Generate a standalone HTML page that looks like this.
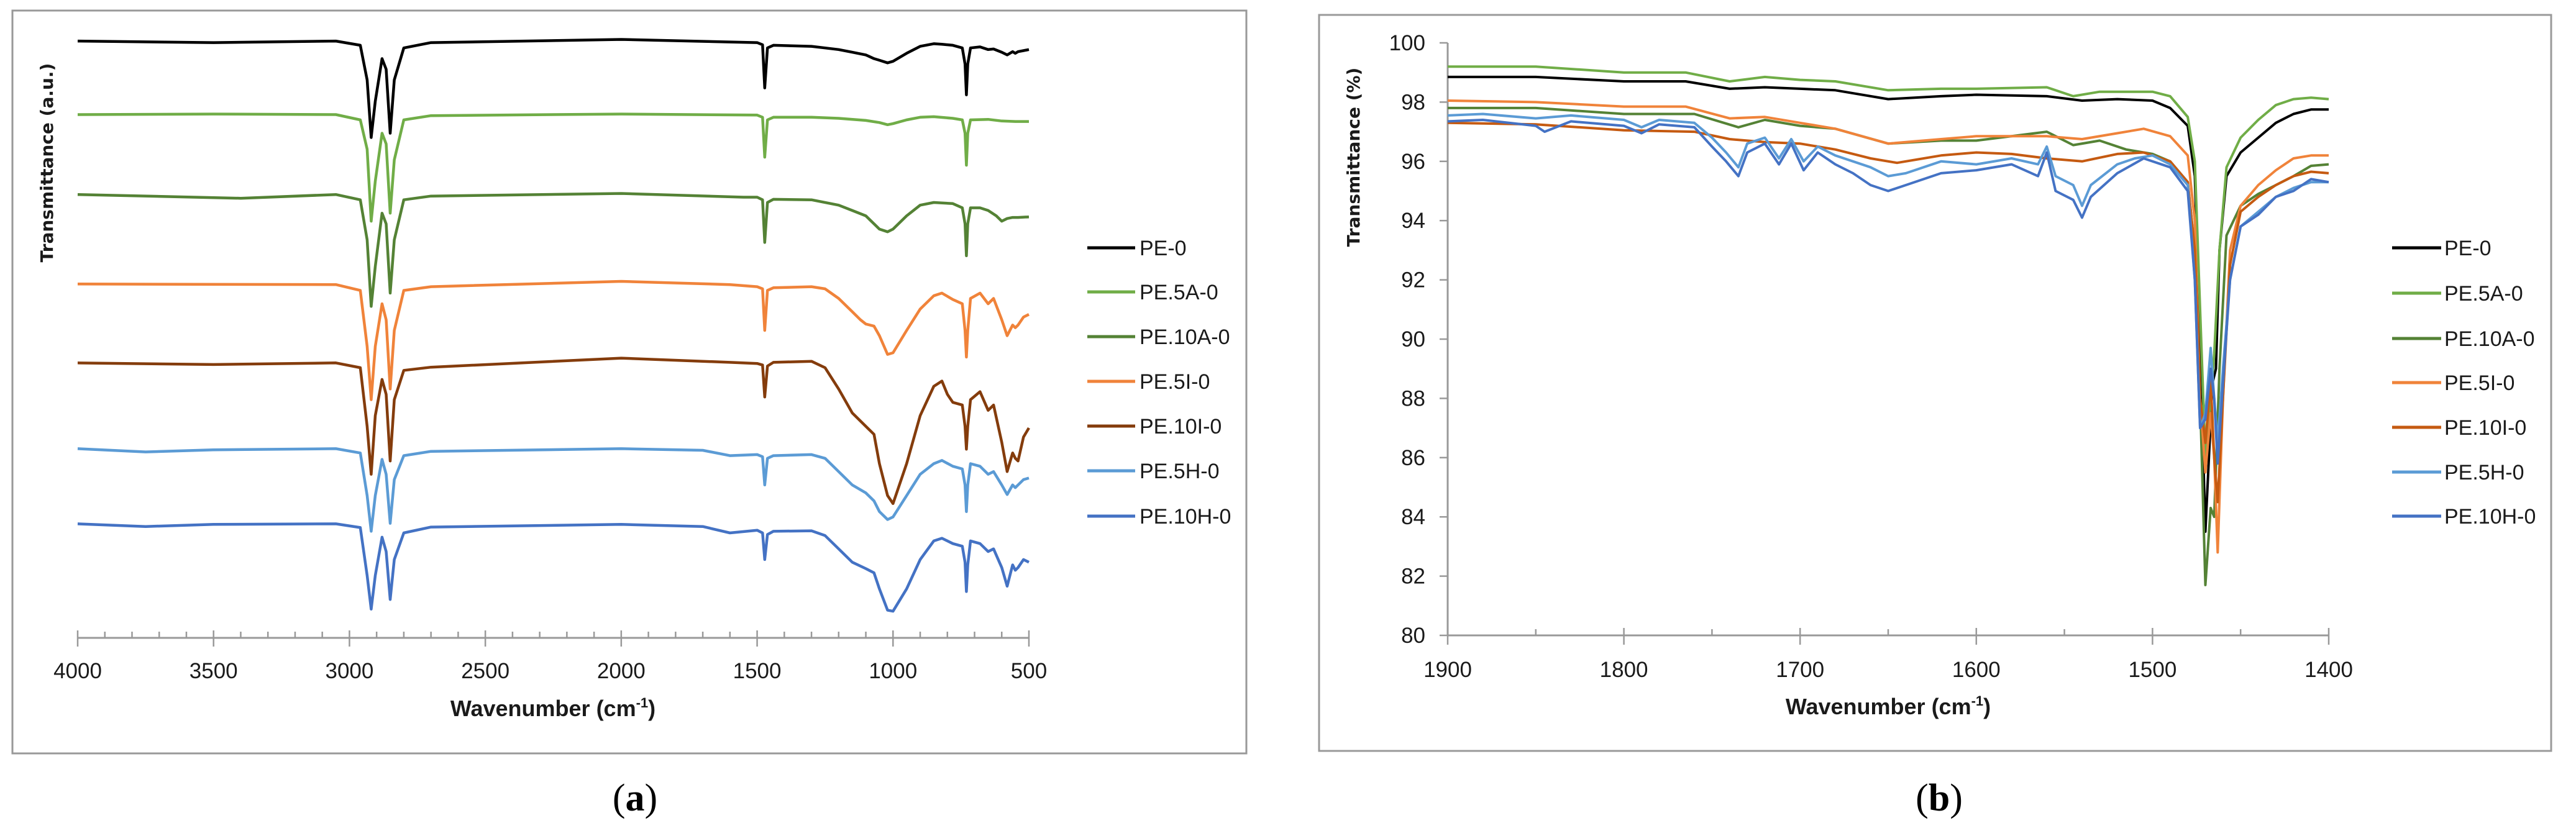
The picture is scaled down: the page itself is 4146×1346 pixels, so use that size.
<!DOCTYPE html>
<html><head><meta charset="utf-8"><style>
html,body{margin:0;padding:0;background:#fff;}
svg{display:block;}
text{font-family:"Liberation Sans Narrow","Liberation Sans",sans-serif;fill:#1a1a1a;}
.ttl{font-family:"DejaVu Sans","Liberation Sans",sans-serif;font-weight:bold;}
.xt{font-weight:bold;}
.cap{font-family:"Liberation Serif",serif;fill:#000;}
</style></head><body>
<svg id="fig" width="4146" height="1346" viewBox="0 0 4146 1346" xmlns="http://www.w3.org/2000/svg">
<rect x="0" y="0" width="4146" height="1346" fill="#fff"/>
<rect x="20" y="17" width="1986" height="1196" fill="none" stroke="#999" stroke-width="3"/>
<rect x="2123" y="24" width="1983" height="1185" fill="none" stroke="#999" stroke-width="3"/>
<g id="ga"></g>
<g id="gb"></g>
<text class="ttl" x="0" y="0" font-size="28" text-anchor="middle" transform="translate(85,262) rotate(-90)">Transmittance (a.u.)</text>
<text class="xt" x="890" y="1153" font-size="36" text-anchor="middle">Wavenumber (cm<tspan font-size="22" dy="-14">-1</tspan><tspan dy="14">)</tspan></text>
<text class="ttl" x="0" y="0" font-size="28" text-anchor="middle" transform="translate(2188,253) rotate(-90)">Transmittance (%)</text>
<text class="xt" x="3039" y="1150" font-size="36" text-anchor="middle">Wavenumber (cm<tspan font-size="22" dy="-14">-1</tspan><tspan dy="14">)</tspan></text>
<text class="cap" x="1022" y="1305" font-size="62" text-anchor="middle">(<tspan font-weight="bold">a</tspan>)</text>
<text class="cap" x="3121" y="1305" font-size="62" text-anchor="middle">(<tspan font-weight="bold">b</tspan>)</text>
</svg>
<script>
// ---------- Panel A data (wavenumber, relative transmittance a.u.) ----------
const aNames = ["PE-0","PE.5A-0","PE.10A-0","PE.5I-0","PE.10I-0","PE.5H-0","PE.10H-0"];
const aColors = ["#000000","#70ad47","#548235","#f0833a","#843c0c","#5b9bd5","#4472c4"];
const aXTicks = [4000,3500,3000,2500,2000,1500,1000,500];
const aPE0 = [[4000,112.3],[3500,112],[3050,112.3],[2960,111.5],[2935,105],[2920,94.2],[2905,101],[2880,109],[2865,107],[2850,95],[2835,105],[2800,111],[2700,112],[2000,112.6],[1500,112],[1480,111.6],[1472,103.5],[1462,111],[1440,111.5],[1300,111.3],[1250,111],[1200,110.7],[1150,110.2],[1100,109.7],[1070,109],[1050,108.7],[1020,108.2],[1000,108.5],[950,110],[900,111.3],[850,111.8],[820,111.7],[780,111.5],[745,111],[735,108],[730,102.2],[725,108],[715,111],[680,111.2],[650,110.7],[630,110.8],[600,110.2],[580,109.7],[560,110.3],[550,110],[540,110.3],[520,110.5],[500,110.7]];
const aPE5A = [[4000,98.5],[3500,98.6],[3050,98.5],[2960,97.5],[2935,92],[2920,78.5],[2905,86],[2880,95],[2865,93],[2850,80],[2835,90],[2800,97.5],[2700,98.3],[2000,98.6],[1500,98.4],[1480,98],[1472,90.5],[1462,97.5],[1440,98],[1300,98],[1200,97.8],[1100,97.4],[1050,97],[1020,96.6],[1000,96.8],[950,97.5],[900,98],[850,98.1],[780,97.8],[745,97.5],[735,95],[730,89],[725,95],[715,97.5],[650,97.6],[600,97.3],[550,97.2],[500,97.2]];
const aPE10A = [[4000,83.5],[3400,82.8],[3050,83.5],[2960,82.5],[2935,75],[2920,62.5],[2905,70],[2880,80],[2865,78],[2850,65],[2835,75],[2800,82.5],[2700,83.2],[2000,83.7],[1550,83],[1500,83],[1480,82.5],[1472,74.5],[1462,82],[1440,82.6],[1300,82.5],[1200,81.5],[1150,80.5],[1100,79.5],[1070,78],[1050,77],[1020,76.5],[1000,77],[950,79.5],[900,81.5],[850,82],[780,81.8],[745,81],[735,78],[730,72],[725,78],[715,81],[680,81],[650,80.5],[620,79.5],[600,78.5],[580,79],[560,79.2],[540,79.2],[500,79.3]];
const aPE5I = [[4000,66.7],[3050,66.6],[2960,65.5],[2935,55],[2920,45],[2905,55],[2880,63],[2865,60],[2850,47],[2835,58],[2800,65.5],[2700,66.2],[2000,67.2],[1600,66.6],[1500,66.2],[1480,65.8],[1472,58],[1462,65.5],[1440,66],[1300,66.2],[1250,65.8],[1200,64],[1150,61.5],[1120,60],[1100,59.2],[1070,58.8],[1050,57],[1020,53.5],[1000,53.8],[950,58],[900,62],[850,64.5],[820,65],[780,63.8],[745,63],[735,58],[730,53],[725,58],[715,64],[680,65],[650,63],[630,64],[600,60],[580,57],[560,59],[550,58.5],[540,59],[520,60.5],[500,61]];
const aPE10I = [[4000,51.9],[3500,51.6],[3050,51.9],[2960,51],[2935,40],[2920,31],[2905,42],[2880,48.8],[2865,46],[2850,33.5],[2835,45],[2800,50.5],[2700,51.1],[2000,52.8],[1600,52],[1500,51.8],[1480,51.5],[1472,45.5],[1462,51.3],[1440,52],[1300,52.2],[1250,51],[1200,47],[1150,42.5],[1100,40],[1070,38.5],[1050,33],[1020,27],[1000,25.5],[950,33],[900,42],[850,47.5],[820,48.5],[800,46],[780,44.5],[745,44],[735,40],[730,35.7],[725,40],[715,45],[680,46.5],[650,43],[630,44],[600,37],[580,31.5],[560,35],[550,34],[540,33.5],[520,38],[500,39.7]];
const aPE5H = [[4000,35.8],[3750,35.2],[3500,35.6],[3050,35.8],[2960,35],[2935,27],[2920,20.3],[2905,27],[2880,33.8],[2865,31],[2850,21.8],[2835,30],[2800,34.5],[2700,35.3],[2000,35.8],[1700,35.5],[1600,34.5],[1500,34.7],[1480,34.3],[1472,29],[1462,34],[1440,34.5],[1300,34.7],[1250,34],[1200,31.5],[1150,29],[1100,27.5],[1070,26],[1050,24],[1020,22.5],[1000,23],[950,27],[900,31],[850,33],[820,33.6],[780,32.5],[745,32],[735,29],[730,24],[725,29],[715,33],[680,32.5],[650,31],[630,31.5],[600,29],[580,27.2],[560,29],[550,28.5],[540,29],[520,30],[500,30.3]];
const aPE10H = [[4000,21.7],[3750,21.2],[3500,21.6],[3050,21.7],[2960,21],[2935,12],[2920,5.7],[2905,12],[2880,19.2],[2865,16.5],[2850,7.5],[2835,15],[2800,20],[2700,21.1],[2000,21.6],[1700,21.2],[1600,20],[1500,20.5],[1480,20],[1472,15],[1462,19.7],[1440,20.3],[1300,20.4],[1250,19.5],[1200,17],[1150,14.5],[1100,13.3],[1070,12.5],[1050,9.5],[1020,5.5],[1000,5.3],[950,9.5],[900,15],[850,18.5],[820,19],[780,18],[745,17.5],[735,14.5],[730,9],[725,14],[715,18.5],[680,18],[650,16.5],[630,17],[600,13.5],[580,10],[560,14],[550,13],[540,13.5],[520,15],[500,14.5]];

// ---------- Panel B data (wavenumber, transmittance %) ----------
const bNames = aNames;
const bColors = ["#000000","#70ad47","#548235","#f0833a","#c55a11","#5b9bd5","#4472c4"];
const bXTicks = [1900,1800,1700,1600,1500,1400];
const bYTicks = [80,82,84,86,88,90,92,94,96,98,100];
const bPE0 = [[1900,98.85],[1850,98.85],[1800,98.7],[1765,98.7],[1740,98.45],[1720,98.5],[1700,98.45],[1680,98.4],[1650,98.1],[1620,98.2],[1600,98.25],[1560,98.2],[1540,98.05],[1520,98.1],[1500,98.05],[1490,97.8],[1480,97.2],[1476,95.5],[1473,90],[1470,83.5],[1468,86],[1466,88.5],[1464,89],[1462,93],[1458,95.5],[1450,96.3],[1440,96.8],[1430,97.3],[1420,97.6],[1410,97.75],[1400,97.75]];
const bPE5A = [[1900,99.2],[1850,99.2],[1800,99.0],[1765,99.0],[1740,98.7],[1720,98.85],[1700,98.75],[1680,98.7],[1650,98.4],[1620,98.45],[1600,98.45],[1560,98.5],[1545,98.2],[1530,98.35],[1500,98.35],[1490,98.2],[1480,97.5],[1476,96],[1473,91],[1470,86],[1467,88],[1465,89.5],[1462,93],[1458,95.8],[1450,96.8],[1440,97.4],[1430,97.9],[1420,98.1],[1410,98.15],[1400,98.1]];
const bPE10A = [[1900,97.8],[1850,97.8],[1800,97.6],[1760,97.6],[1735,97.15],[1720,97.4],[1700,97.2],[1680,97.1],[1650,96.6],[1620,96.7],[1600,96.7],[1560,97.0],[1545,96.55],[1530,96.7],[1515,96.4],[1500,96.25],[1490,96.0],[1480,95.3],[1476,93],[1473,88],[1470,81.7],[1467,84.3],[1465,84],[1462,89],[1458,93.5],[1450,94.5],[1440,94.9],[1430,95.2],[1420,95.5],[1410,95.85],[1400,95.9]];
const bPE5I = [[1900,98.05],[1850,98.0],[1800,97.85],[1765,97.85],[1740,97.45],[1720,97.5],[1700,97.3],[1680,97.1],[1650,96.6],[1620,96.75],[1600,96.85],[1560,96.85],[1540,96.75],[1520,96.95],[1505,97.1],[1490,96.85],[1480,96.2],[1476,94],[1473,88],[1470,85.5],[1467,87.5],[1465,86],[1463,82.8],[1460,88],[1456,93],[1450,94.5],[1440,95.2],[1430,95.7],[1420,96.1],[1410,96.2],[1400,96.2]];
const bPE10I = [[1900,97.3],[1850,97.25],[1800,97.05],[1760,97.0],[1740,96.75],[1720,96.65],[1700,96.6],[1680,96.4],[1660,96.1],[1645,95.95],[1620,96.2],[1600,96.3],[1580,96.25],[1560,96.1],[1540,96.0],[1520,96.25],[1505,96.3],[1490,96.0],[1480,95.3],[1476,93],[1473,88],[1470,86.5],[1467,88.6],[1465,86],[1463,84.5],[1460,88],[1456,92.5],[1450,94.3],[1440,94.8],[1430,95.2],[1420,95.5],[1410,95.65],[1400,95.6]];
const bPE5H = [[1900,97.55],[1880,97.6],[1850,97.45],[1830,97.55],[1800,97.4],[1790,97.15],[1780,97.4],[1760,97.3],[1750,96.8],[1742,96.3],[1735,95.8],[1730,96.6],[1720,96.8],[1712,96.1],[1705,96.75],[1698,96.0],[1690,96.5],[1680,96.2],[1670,96.0],[1660,95.8],[1650,95.5],[1640,95.6],[1620,96.0],[1600,95.9],[1580,96.1],[1565,95.9],[1560,96.5],[1555,95.5],[1545,95.2],[1540,94.5],[1535,95.2],[1520,95.9],[1510,96.1],[1500,96.2],[1490,95.9],[1480,95.2],[1476,92],[1473,87],[1470,87.5],[1467,89.7],[1465,88],[1463,86.5],[1460,89],[1456,92],[1450,93.8],[1440,94.3],[1430,94.8],[1420,95.1],[1410,95.3],[1400,95.3]];
const bPE10H = [[1900,97.35],[1880,97.4],[1850,97.2],[1845,97.0],[1830,97.35],[1800,97.2],[1790,96.95],[1780,97.25],[1760,97.15],[1750,96.5],[1742,96.0],[1735,95.5],[1730,96.3],[1720,96.6],[1712,95.9],[1705,96.6],[1698,95.7],[1690,96.3],[1680,95.9],[1670,95.6],[1660,95.2],[1650,95.0],[1640,95.2],[1620,95.6],[1600,95.7],[1580,95.9],[1565,95.5],[1560,96.3],[1555,95.0],[1545,94.7],[1540,94.1],[1535,94.8],[1520,95.6],[1505,96.1],[1490,95.8],[1480,95.0],[1476,92],[1473,87],[1470,87.3],[1467,89],[1465,88],[1463,85.8],[1460,88.5],[1456,92],[1450,93.8],[1440,94.2],[1430,94.8],[1420,95.0],[1410,95.4],[1400,95.3]];

const aSeries = [aPE0,aPE5A,aPE10A,aPE5I,aPE10I,aPE5H,aPE10H];
const bSeries = [bPE0,bPE5A,bPE10A,bPE5I,bPE10I,bPE5H,bPE10H];

const NS = "http://www.w3.org/2000/svg";
function mk(tag, attrs, parent){
  const e = document.createElementNS(NS, tag);
  for (const k in attrs) e.setAttribute(k, attrs[k]);
  parent.appendChild(e);
  return e;
}
// Axis functions
const axA = {x0:125, x1:1656, w0:4000, w1:500, yAxis:1027};
function xA(w){ return axA.x0 + (axA.w0 - w) / (axA.w0 - axA.w1) * (axA.x1 - axA.x0); }
function yA(v){ return 1029.6 - 8.58 * v; }
const axB = {x0:2330, x1:3748, w0:1900, w1:1400, y0:1023, y1:69, v0:80, v1:100};
function xB(w){ return axB.x0 + (axB.w0 - w) / (axB.w0 - axB.w1) * (axB.x1 - axB.x0); }
function yB(v){ return axB.y0 + (v - axB.v0) / (axB.v1 - axB.v0) * (axB.y1 - axB.y0); }

const ga = document.getElementById('ga');
const gb = document.getElementById('gb');

// Panel A axis
let ax = mk('line',{x1:axA.x0,y1:axA.yAxis,x2:axA.x1,y2:axA.yAxis,stroke:'#999','stroke-width':3},ga);


for (let w = 4000; w >= 500; w -= 100){
  const major = (w % 500 === 0);
  const t = mk('line',{x1:xA(w),x2:xA(w),y1:major?axA.yAxis-12:axA.yAxis-10,y2:major?axA.yAxis+14:axA.yAxis,stroke:'#999','stroke-width':2.5},ga);
  
  
}
aXTicks.forEach(w=>{
  const t = mk('text',{x:xA(w),y:1092,'font-size':35,'text-anchor':'middle'},ga);
  t.textContent = w;
  
  
});
aSeries.forEach((s,i)=>{
  const p = mk('polyline',{points:s.map(d=>xA(d[0]).toFixed(1)+','+yA(d[1]).toFixed(1)).join(' '),fill:'none',stroke:aColors[i],'stroke-width':4.5,'stroke-linejoin':'round'},ga);
  
  
});
const legAy = [399,470,542,614,686,758,831];
aNames.forEach((n,i)=>{
  const l = mk('line',{x1:1750,x2:1827,y1:legAy[i],y2:legAy[i],stroke:aColors[i],'stroke-width':5},ga);
  
  
  const t = mk('text',{x:1834,y:legAy[i]+12,'font-size':34},ga);
  t.textContent = n;
  
  
});

// Panel B axes
let bx = mk('line',{x1:axB.x0,y1:axB.y0,x2:axB.x1,y2:axB.y0,stroke:'#999','stroke-width':3},gb);


let by = mk('line',{x1:axB.x0,y1:axB.y0,x2:axB.x0,y2:axB.y1,stroke:'#999','stroke-width':3},gb);


for (let w = 1900; w >= 1400; w -= 50){
  const major = (w % 100 === 0);
  const t = mk('line',{x1:xB(w),x2:xB(w),y1:major?axB.y0-12:axB.y0-10,y2:major?axB.y0+15:axB.y0,stroke:'#999','stroke-width':2.5},gb);
  
  
}
bXTicks.forEach(w=>{
  const t = mk('text',{x:xB(w),y:1090,'font-size':35,'text-anchor':'middle'},gb);
  t.textContent = w;
  
  
});
bYTicks.forEach(v=>{
  const tk = mk('line',{x1:axB.x0-13,x2:axB.x0,y1:yB(v),y2:yB(v),stroke:'#999','stroke-width':2.5},gb);
  
  
  const t = mk('text',{x:2294,y:yB(v)+12,'font-size':35,'text-anchor':'end'},gb);
  t.textContent = v;
  
  
});
bSeries.forEach((s,i)=>{
  const p = mk('polyline',{points:s.map(d=>xB(d[0]).toFixed(1)+','+yB(d[1]).toFixed(1)).join(' '),fill:'none',stroke:bColors[i],'stroke-width':4,'stroke-linejoin':'round'},gb);
  
  
});
const legBy = [399,472,545,616,688,760,831];
bNames.forEach((n,i)=>{
  const l = mk('line',{x1:3850,x2:3929,y1:legBy[i],y2:legBy[i],stroke:bColors[i],'stroke-width':5},gb);
  
  
  const t = mk('text',{x:3934,y:legBy[i]+12,'font-size':34},gb);
  t.textContent = n;
  
  
});
</script>
</body></html>
